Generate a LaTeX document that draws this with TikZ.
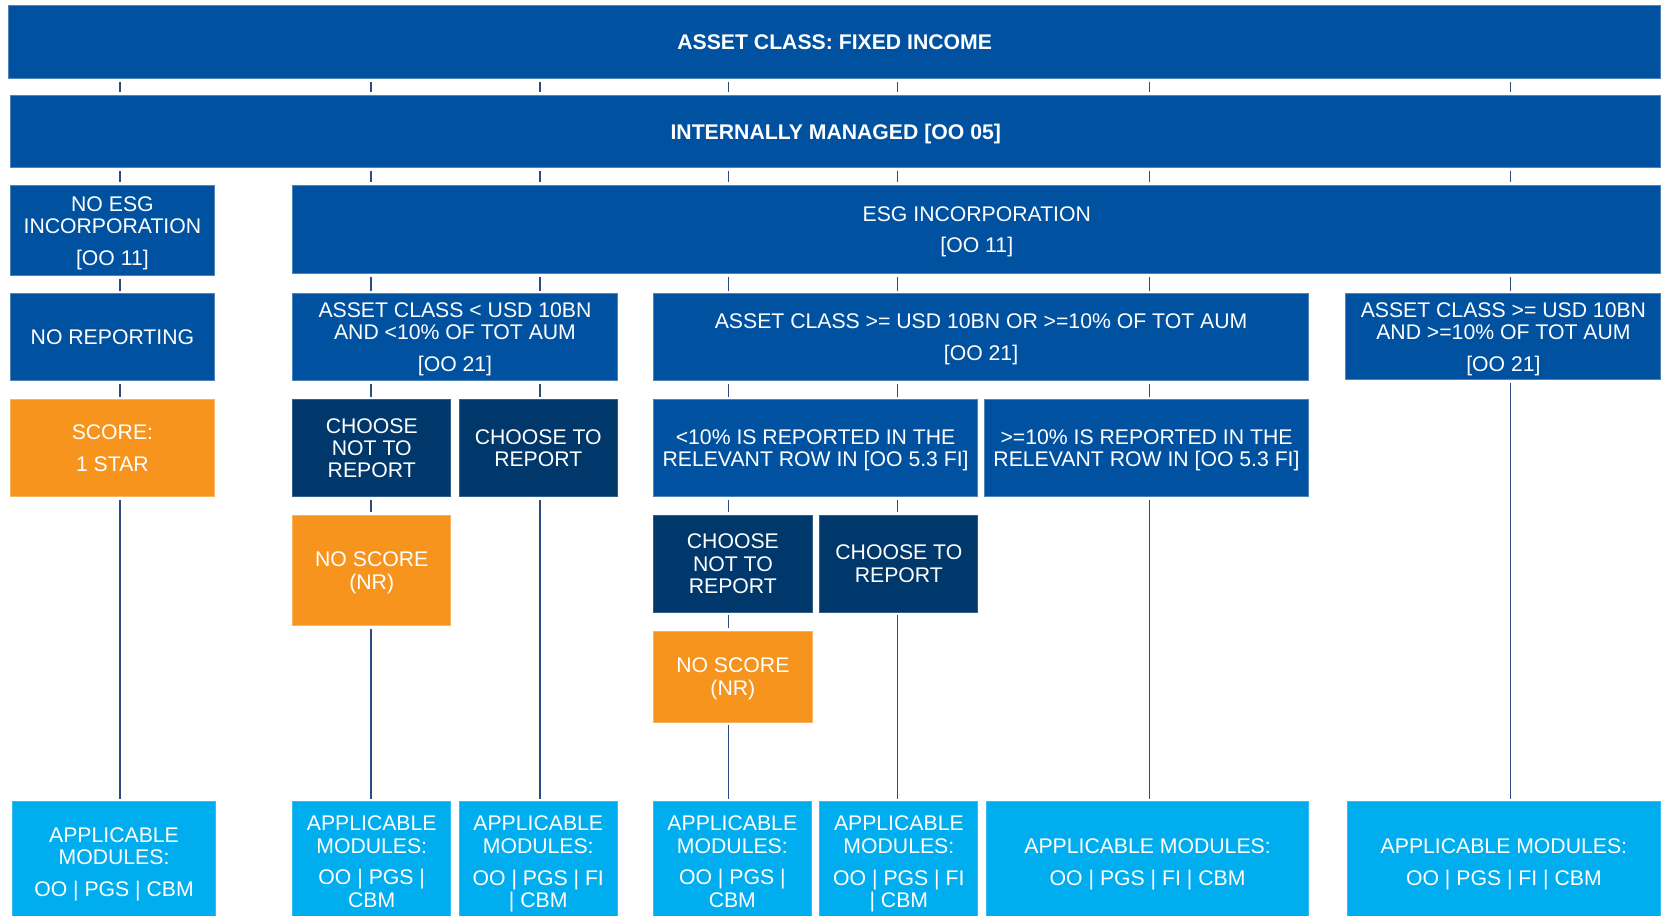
\documentclass[tikz,border=0pt]{standalone}
\usepackage{fontspec}
\setmainfont{Liberation Sans}
\definecolor{midblue}{HTML}{0052A0}
\definecolor{navyblue}{HTML}{00386C}
\definecolor{orangebox}{HTML}{F7941D}
\definecolor{cyanbox}{HTML}{00AEEF}
\definecolor{linecol}{HTML}{2B4C7E}
\tikzset{
  basebox/.style={inner sep=0pt, outer sep=0pt, align=center, text=white,
    font=\fontsize{10}{10.5}\selectfont, line width=0.4pt},
  bluebox/.style={basebox, fill=midblue, draw=midblue!70!white},
  navybox/.style={basebox, fill=navyblue, draw=navyblue!80!white},
  orbox/.style={basebox, fill=orangebox, draw=orangebox!70!white},
  modbox/.style={basebox, fill=cyanbox, draw=cyanbox!80!white},
  conn/.style={draw=linecol, line width=0.7pt, shorten <=1.5pt, shorten >=1.5pt},
}
\newcommand{\pgap}{\\[4.5pt]}
\newcommand{\nd}[1]{\raisebox{0pt}[\height][0pt]{#1}}
\newcommand{\bx}[7][]{%
  \pgfmathsetmacro{\bxcx}{(#3+#5)/2}%
  \pgfmathsetmacro{\bxcy}{(#4+#6)/2}%
  \pgfmathsetmacro{\bxww}{(#5-#3)*0.5}%
  \pgfmathsetmacro{\bxhh}{(#6-#4)*0.5}%
  \node[#1, minimum width=\bxww pt, minimum height=\bxhh pt] (#2) at (\bxcx,\bxcy) {#7};}
\begin{document}
\begin{tikzpicture}[x=0.5pt,y=-0.5pt]
\useasboundingbox (0,0) rectangle (1568,863);
% column coordinates
\coordinate (k1) at (113,0);
\coordinate (k2) at (350,0);
\coordinate (k3) at (509,0);
\coordinate (k4) at (687,0);
\coordinate (k5) at (846,0);
\coordinate (k6) at (1084,0);
\coordinate (k7) at (1424,0);
% row 1-2
\bx[bluebox]{top}{8}{5}{1566}{74}{\textbf{ASSET CLASS: FIXED INCOME}}
\bx[bluebox]{im}{10}{90}{1566}{158}{\textbf{\nd{INTERNALLY MANAGED [OO 05]}}}
% row 3
\bx[bluebox]{noesg}{10}{175}{202}{260}{NO ESG\\INCORPORATION\pgap\nd{[OO 11]}}
\bx[bluebox]{esg}{276}{175}{1566}{258}{ESG INCORPORATION\pgap\nd{[OO 11]}}
% row 4
\bx[bluebox]{norep}{10}{277}{202}{359}{NO REPORTING}
\bx[bluebox]{lt}{276}{277}{582}{359}{ASSET CLASS < USD 10BN\\AND <10\% OF TOT AUM\pgap\nd{[OO 21]}}
\bx[bluebox]{ge}{616}{277}{1234}{359}{ASSET CLASS >= USD 10BN OR >=10\% OF TOT AUM\pgap\nd{[OO 21]}}
\bx[bluebox]{andb}{1269}{277}{1566}{358}{ASSET CLASS >= USD 10BN\\AND >=10\% OF TOT AUM\pgap\nd{[OO 21]}}
% row 5
\bx[orbox]{score}{10}{377}{202}{468}{SCORE:\pgap 1 STAR}
\bx[navybox]{cn1}{276}{377}{425}{468}{CHOOSE\\NOT TO\\REPORT}
\bx[navybox]{ct1}{433}{377}{582}{468}{CHOOSE TO\\REPORT}
\bx[bluebox]{r1}{616}{377}{922}{468}{<10\% IS REPORTED IN THE\\\nd{RELEVANT ROW IN [OO 5.3 FI]}}
\bx[bluebox]{r2}{928}{377}{1234}{468}{>=10\% IS REPORTED IN THE\\\nd{RELEVANT ROW IN [OO 5.3 FI]}}
% row 6
\bx[orbox]{ns1}{276}{486}{425}{590}{NO SCORE\\\nd{(NR)}}
\bx[navybox]{cn2}{616}{486}{766}{577}{CHOOSE\\NOT TO\\REPORT}
\bx[navybox]{ct2}{773}{486}{922}{577}{CHOOSE TO\\REPORT}
% row 7
\bx[orbox]{ns2}{616}{595}{766}{681}{NO SCORE\\\nd{(NR)}}
% bottom modules (they run past the lower edge of the page)
\bx[modbox]{m1}{12}{756}{203}{869}{APPLICABLE\\MODULES:\pgap\nd{OO | PGS | CBM}}
\bx[modbox]{m2}{276}{756}{425}{869}{APPLICABLE\\MODULES:\pgap OO | PGS |\\CBM}
\bx[modbox]{m3}{433}{756}{582}{869}{APPLICABLE\\MODULES:\pgap OO | PGS | FI\\\nd{| CBM}}
\bx[modbox]{m4}{616}{756}{765}{869}{APPLICABLE\\MODULES:\pgap OO | PGS |\\CBM}
\bx[modbox]{m5}{773}{756}{922}{869}{APPLICABLE\\MODULES:\pgap OO | PGS | FI\\\nd{| CBM}}
\bx[modbox]{m6}{930}{756}{1234}{869}{APPLICABLE MODULES:\pgap\nd{OO | PGS | FI | CBM}}
\bx[modbox]{m7}{1270}{756}{1566}{869}{APPLICABLE MODULES:\pgap\nd{OO | PGS | FI | CBM}}
% connectors top -> im
\foreach \k in {k1,k2,k3,k4,k5,k6,k7}
  \draw[conn] (top.south -| \k) -- (im.north -| \k);
\draw[conn] (im.south -| k1) -- (noesg.north -| k1);
\foreach \k in {k2,k3,k4,k5,k6,k7}
  \draw[conn] (im.south -| \k) -- (esg.north -| \k);
\draw[conn] (noesg.south -| k1) -- (norep.north -| k1);
\foreach \k in {k2,k3}
  \draw[conn] (esg.south -| \k) -- (lt.north -| \k);
\foreach \k in {k4,k5,k6}
  \draw[conn] (esg.south -| \k) -- (ge.north -| \k);
\draw[conn] (esg.south -| k7) -- (andb.north -| k7);
% row 4 -> 5
\draw[conn] (norep.south -| k1) -- (score.north -| k1);
\draw[conn] (lt.south -| k2) -- (cn1.north -| k2);
\draw[conn] (lt.south -| k3) -- (ct1.north -| k3);
\draw[conn] (ge.south -| k4) -- (r1.north -| k4);
\draw[conn] (ge.south -| k5) -- (r1.north -| k5);
\draw[conn] (ge.south -| k6) -- (r2.north -| k6);
\draw[conn] (andb.south -| k7) -- (m7.north -| k7);
% lower
\draw[conn] (score.south -| k1) -- (m1.north -| k1);
\draw[conn] (cn1.south -| k2) -- (ns1.north -| k2);
\draw[conn] (ns1.south -| k2) -- (m2.north -| k2);
\draw[conn] (ct1.south -| k3) -- (m3.north -| k3);
\draw[conn] (r1.south -| k4) -- (cn2.north -| k4);
\draw[conn] (r1.south -| k5) -- (ct2.north -| k5);
\draw[conn] (cn2.south -| k4) -- (ns2.north -| k4);
\draw[conn] (ns2.south -| k4) -- (m4.north -| k4);
\draw[conn] (ct2.south -| k5) -- (m5.north -| k5);
\draw[conn] (r2.south -| k6) -- (m6.north -| k6);
\end{tikzpicture}
\end{document}
